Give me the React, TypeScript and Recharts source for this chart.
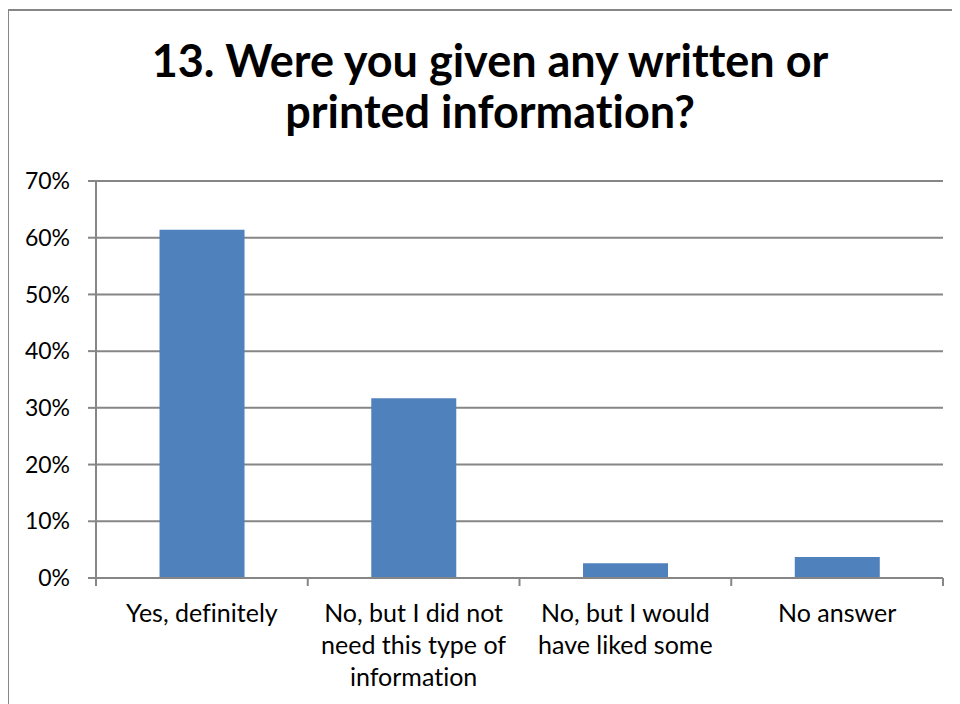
import React from 'react';
import { BarChart, Bar, XAxis, YAxis, CartesianGrid } from 'recharts';

// answers to question 13
const categories = ['Yes, definitely', 'No, but I did not need', 'No, but I would have', 'No answer'];
const tickLines = [
  ['Yes, definitely'],
  ['No, but I did not', 'need this type of', 'information'],
  ['No, but I would', 'have liked some'],
  ['No answer'],
];
const shares = [0.614, 0.317, 0.026, 0.037];
const yTicks = [0, 0.1, 0.2, 0.3, 0.4, 0.5, 0.6, 0.7];
const titleLines = ['13. Were you given any written or', 'printed information?'];

const AXIS_GREY = '#868686';
const FONT = 'Lato, "Open Sans", sans-serif';

const chartData = categories.map((name, i) => ({ name, share: shares[i] }));

const CategoryTick = (props: any) => {
  const { x, y, payload, index } = props;
  const i0 = payload.index ?? index;
  const lines = tickLines[i0] || [String(payload.value)];
  const half = payload.offset || 0;
  const isLast = i0 === categories.length - 1;
  return (
    <g>
      <line x1={x - half} x2={x - half} y1={y - 8} y2={y} stroke={AXIS_GREY} strokeWidth={2} />
      {isLast && <line x1={x + half} x2={x + half} y1={y - 8} y2={y} stroke={AXIS_GREY} strokeWidth={2} />}
      <text x={x} y={y} textAnchor="middle" fill="#000" fontSize={25} fontFamily={FONT} style={{ fontVariantLigatures: 'none' }}>
        {lines.map((l, i) => (
          <tspan key={i} x={x} dy={i === 0 ? 36 : 32}>
            {l}
          </tspan>
        ))}
      </text>
    </g>
  );
};

const App: React.FC = () => {
  return (
    <div style={{ position: 'relative', marginLeft: -8, marginTop: -8, width: 960, height: 704, overflow: 'hidden', background: '#fff' }}>
      <div
        style={{
          position: 'absolute',
          left: 7,
          top: 9,
          width: 1200,
          height: 1200,
          border: `2px solid ${AXIS_GREY}`,
        }}
      />
      <svg width={960} height={704} style={{ position: 'absolute', left: 0, top: 0 }}>
        {titleLines.map((t, i) => (
          <text
            key={i}
            x={490}
            y={77 + i * 51}
            textAnchor="middle"
            fontFamily={FONT}
            fontWeight={700}
            fontSize={45}
            fill="#000"
            style={{ fontVariantLigatures: 'none' }}
          >
            {t}
          </text>
        ))}
      </svg>
      <div style={{ position: 'absolute', left: 0, top: 0 }}>
        <BarChart
          width={960}
          height={704}
          data={chartData}
          barCategoryGap="30%"
          margin={{ top: 181, right: 17, bottom: 0, left: 0 }}
          style={{ fontFamily: FONT }}
        >
          <CartesianGrid vertical={false} stroke={AXIS_GREY} strokeWidth={2} />
          <XAxis
            dataKey="name"
            tickLine={false}
            tickSize={8}
            tickMargin={0}
            axisLine={{ stroke: AXIS_GREY, strokeWidth: 2 }}
            tick={<CategoryTick />}
            interval={0}
            height={126}
          />
          <YAxis
            width={96}
            domain={[0, 0.7]}
            ticks={yTicks}
            interval={0}
            tickFormatter={(v: number) => `${Math.round(v * 100)}%`}
            tickSize={8}
            tickMargin={18}
            tickLine={{ stroke: AXIS_GREY, strokeWidth: 2 }}
            axisLine={{ stroke: AXIS_GREY, strokeWidth: 2 }}
            tick={{ fill: '#000', fontSize: 23, fontFamily: FONT }}
          />
          <Bar dataKey="share" fill="#4F81BD" isAnimationActive={false} />
        </BarChart>
      </div>
    </div>
  );
};

export default App;
